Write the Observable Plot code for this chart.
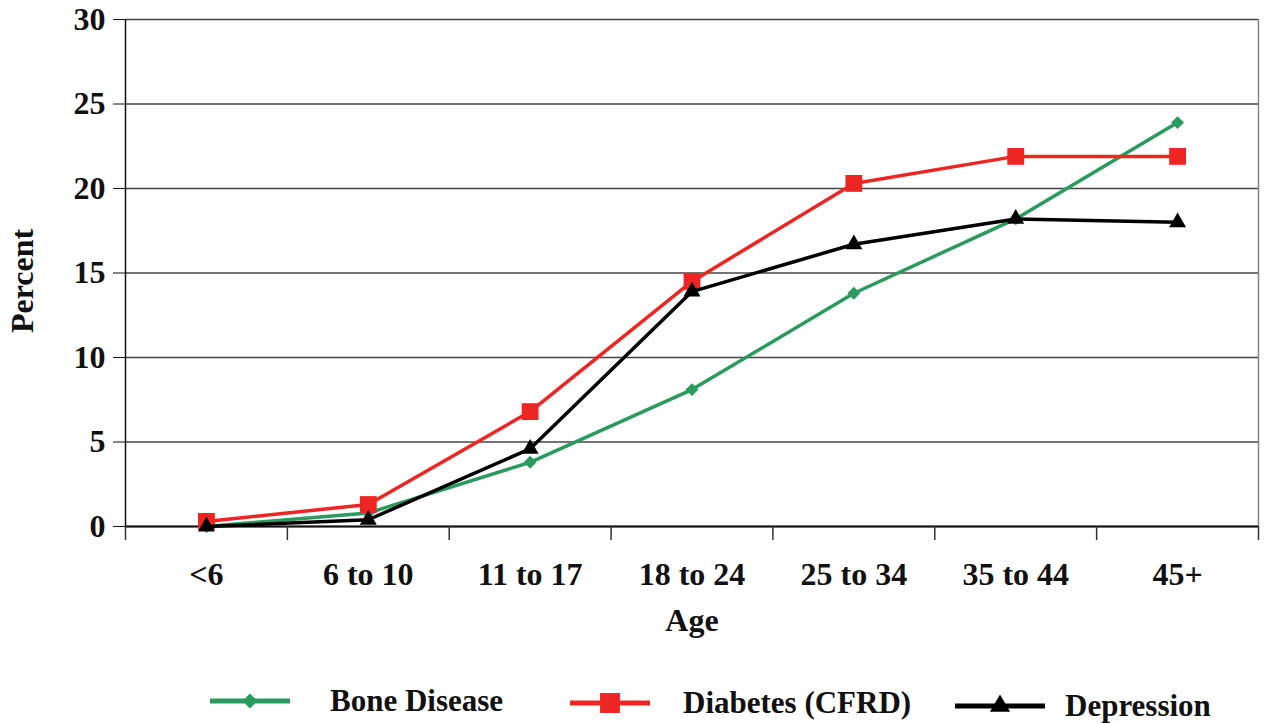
<!DOCTYPE html>
<html>
<head>
<meta charset="utf-8">
<script src="https://cdn.jsdelivr.net/npm/d3@7"></script>
<script src="https://cdn.jsdelivr.net/npm/@observablehq/plot@0.6"></script>
<style>
  html, body { margin: 0; padding: 0; background: #fff; overflow: hidden; }
  #chart { width: 1272px; }
  .legend { position: relative; width: 1272px; height: 68px; font-family: "Liberation Serif", "DejaVu Serif", serif; font-weight: bold; font-size: 31px; color: #111; }
  .item { position: absolute; display: flex; align-items: center; white-space: nowrap; height: 30px; }
</style>
</head>
<body>
<div id="chart"></div>
<div class="legend" id="legend"></div>
<script>
// Age groups and percentage of patients with each complication
const categories = ["<6", "6 to 10", "11 to 17", "18 to 24", "25 to 34", "35 to 44", "45+"];
const boneDisease = [0.0, 0.8, 3.8, 8.1, 13.8, 18.2, 23.9];
const diabetes = [0.3, 1.3, 6.8, 14.5, 20.3, 21.9, 21.9];
const depression = [0.0, 0.4, 4.6, 13.9, 16.7, 18.2, 18.0];
const yTicks = [0, 5, 10, 15, 20, 25, 30];

const seriesDefs = [
  {name: "Bone Disease", values: boneDisease, color: "#2a9a5f", symbol: "diamond2", r: 5.8},
  {name: "Diabetes (CFRD)", values: diabetes, color: "#ee2623", symbol: "square", r: 9.5},
  {name: "Depression", values: depression, color: "#000000", symbol: "triangle", r: 6.3}
];

// Each category occupies one unit on a linear x scale; points sit at band centers
const rows = seriesDefs.flatMap(s =>
  categories.map((c, i) => ({series: s.name, pos: i + 0.5, value: s.values[i]}))
);
const boundaries = d3.range(categories.length + 1);
const centers = categories.map((c, i) => i + 0.5);

const font = "Liberation Serif, DejaVu Serif, serif";
const fs = 32;

const chart = Plot.plot({
  width: 1272,
  height: 655,
  marginLeft: 125,
  marginRight: 14,
  marginTop: 19,
  marginBottom: 129,
  style: {fontFamily: font, fontWeight: "bold", color: "#111", background: "#fff"},
  x: {type: "linear", domain: [0, categories.length]},
  y: {domain: [0, 30]},
  marks: [
    Plot.gridY(yTicks, {stroke: "#4a4444", strokeOpacity: 1, strokeWidth: 1.5}),
    Plot.ruleX([categories.length], {y1: 0, y2: 30, stroke: "#8a8282", strokeWidth: 1.5}),
    Plot.ruleX([0], {y1: 0, y2: 30, stroke: "#111", strokeWidth: 1.5}),
    Plot.ruleY([0], {stroke: "#111", strokeWidth: 2}),
    // category boundary ticks below the baseline
    Plot.axisX(boundaries, {tickSize: 14, tickFormat: () => "", label: null, stroke: "#333", strokeWidth: 1.5}),
    // category labels centred in each band
    Plot.axisX(centers, {
      tickSize: 0, tickPadding: 36, fontSize: fs, fontWeight: "bold",
      tickFormat: d => categories[Math.round(d - 0.5)], label: null
    }),
    Plot.axisY(yTicks, {tickSize: 12, tickPadding: 8, fontSize: fs, fontWeight: "bold", label: null, stroke: "#111"}),
    Plot.text(["Age"], {frameAnchor: "bottom", lineAnchor: "middle", dy: 94, fontSize: fs, fontWeight: "bold"}),
    Plot.text(["Percent"], {frameAnchor: "left", textAnchor: "middle", dx: -103, dy: 8, rotate: -90, fontSize: fs, fontWeight: "bold"}),
    ...seriesDefs.flatMap(s => [
      Plot.line(rows.filter(d => d.series === s.name), {x: "pos", y: "value", stroke: s.color, strokeWidth: 3.5}),
      Plot.dot(rows.filter(d => d.series === s.name), {x: "pos", y: "value", fill: s.color, symbol: s.symbol, r: s.r})
    ])
  ]
});
document.getElementById("chart").appendChild(chart);

// Legend below the plot, entries slightly staggered
const legendPlaces = [
  {left: 210, top: 31, swatch: 80, gap: 40},
  {left: 570, top: 33, swatch: 80, gap: 33},
  {left: 955, top: 36, swatch: 90, gap: 20}
];
const legend = d3.select("#legend");
seriesDefs.forEach((s, i) => {
  const p = legendPlaces[i];
  const item = legend.append("div").attr("class", "item")
    .style("left", p.left + "px").style("top", p.top + "px");
  const sw = item.append("svg").attr("width", p.swatch).attr("height", 30).style("margin-right", p.gap + "px");
  sw.append("line").attr("x1", 0).attr("x2", p.swatch).attr("y1", 15).attr("y2", 15)
    .attr("stroke", s.color).attr("stroke-width", 5);
  const sym = {diamond2: d3.symbolDiamond2, square: d3.symbolSquare, triangle: d3.symbolTriangle}[s.symbol];
  sw.append("path").attr("transform", `translate(${p.swatch / 2},15)`)
    .attr("d", d3.symbol(sym, Math.PI * s.r * s.r * 1.4)()).attr("fill", s.color);
  item.append("span").text(s.name);
});
</script>
</body>
</html>
